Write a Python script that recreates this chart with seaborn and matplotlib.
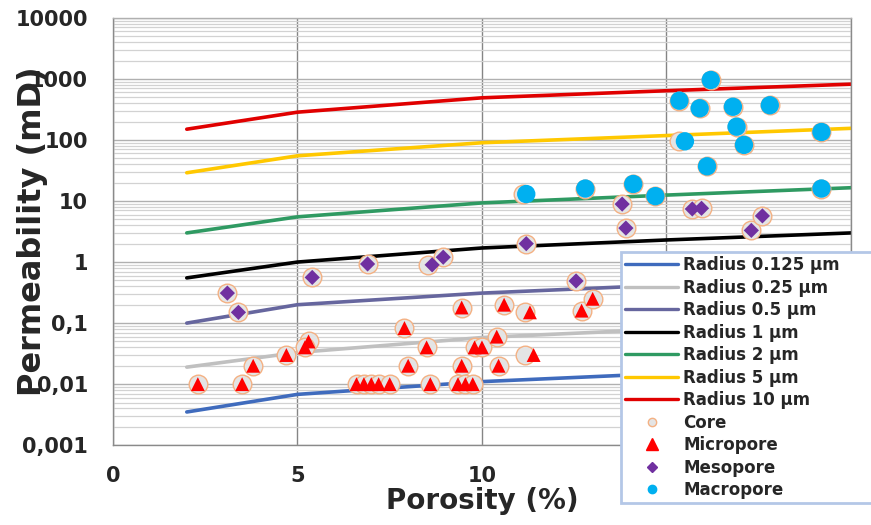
import matplotlib
matplotlib.use("Agg")
import matplotlib.pyplot as plt
from matplotlib.lines import Line2D
from matplotlib.ticker import FixedLocator, FixedFormatter, LogLocator, NullFormatter
import pandas as pd
import seaborn as sns

# pore-throat radius model lines
line_porosity = [2, 5, 10, 15, 20]
radius_labels = [
    "Radius 0.125 µm",
    "Radius 0.25 µm",
    "Radius 0.5 µm",
    "Radius 1 µm",
    "Radius 2 µm",
    "Radius 5 µm",
    "Radius 10 µm",
]
perm_r0125 = [0.0035, 0.0068, 0.011, 0.015, 0.019]
perm_r025 = [0.019, 0.033, 0.058, 0.08, 0.10]
perm_r05 = [0.10, 0.20, 0.31, 0.42, 0.55]
perm_r1 = [0.55, 1.0, 1.7, 2.3, 3.0]
perm_r2 = [3.0, 5.5, 9.3, 12.5, 16.5]
perm_r5 = [29, 55, 90, 118, 155]
perm_r10 = [150, 285, 490, 640, 820]
radius_colors = ["#3f6bbd", "#c0c0c0", "#66669e", "#000000", "#2f9a62", "#ffc800", "#e00000"]

# samples
micro_phi = [2.3, 3.5, 3.8, 4.7, 5.3, 5.2, 6.6, 6.8, 7.0, 7.2, 7.5, 7.9, 8.0, 8.5, 8.6,
             9.45, 9.45, 9.35, 9.55, 9.75, 9.8, 10.0, 10.4, 10.6, 10.45, 11.3, 11.4, 12.7, 13.0]
micro_k = [0.01, 0.01, 0.02, 0.03, 0.05, 0.04, 0.01, 0.01, 0.01, 0.01, 0.01, 0.083, 0.02, 0.04, 0.01,
           0.18, 0.02, 0.01, 0.01, 0.01, 0.04, 0.04, 0.06, 0.2, 0.02, 0.15, 0.03, 0.16, 0.25]
meso_phi = [3.1, 3.4, 5.4, 6.9, 8.65, 8.95, 11.2, 12.55, 13.8, 13.9, 15.7, 15.95, 17.3, 17.6]
meso_k = [0.31, 0.15, 0.56, 0.93, 0.9, 1.2, 2.0, 0.49, 8.9, 3.6, 7.4, 7.6, 3.3, 5.7]
macro_phi = [11.2, 12.8, 14.1, 14.7, 15.35, 15.5, 15.9, 16.2, 16.1, 16.8, 16.9, 17.1, 17.8, 19.2, 19.2]
macro_k = [13, 16, 19, 12, 440, 95, 330, 960, 37, 350, 165, 83, 370, 135, 16]
core_phi = micro_phi[:25] + [11.17, 11.17, 12.7, 13.0] + [3.1, 3.4, 5.4, 6.9, 8.55, 8.95, 11.2, 12.55,
           13.8, 13.9, 15.7, 15.95, 17.3, 17.6] + [11.1, 12.8, 14.1, 14.7, 15.35, 15.35, 15.9, 16.2,
           16.1, 16.8, 16.9, 17.1, 17.8, 19.2, 19.2]
core_k = micro_k + meso_k + macro_k

ytick_vals = [0.001, 0.01, 0.1, 1, 10, 100, 1000, 10000]
ytick_labels = ["0,001", "0,01", "0,1", "1", "10", "100", "1000", "10000"]
xtick_vals = [0, 5, 10, 15, 20]

lines_df = pd.DataFrame({
    "porosity": line_porosity * len(radius_labels),
    "perm": perm_r0125 + perm_r025 + perm_r05 + perm_r1 + perm_r2 + perm_r5 + perm_r10,
    "radius": [r for r in radius_labels for _ in line_porosity],
})

sns.set_style("white")
plt.rcParams["font.family"] = ["DejaVu Sans"]
plt.rcParams["font.weight"] = "bold"

fig, ax = plt.subplots(figsize=(8.71, 5.25), dpi=100)
fig.subplots_adjust(left=0.1297, right=0.977, bottom=0.152, top=0.966)

sns.lineplot(data=lines_df, x="porosity", y="perm", hue="radius", hue_order=radius_labels,
             palette=dict(zip(radius_labels, radius_colors)), linewidth=2.6,
             estimator=None, legend=False, ax=ax, zorder=2)
sns.scatterplot(x=core_phi, y=core_k, marker="o", s=180, color="#e4e4e4",
                edgecolor="#f4b183", linewidth=1.0, ax=ax, zorder=3)
sns.scatterplot(x=micro_phi, y=micro_k, marker="^", s=100, color="#ff0000",
                edgecolor="none", ax=ax, zorder=4)
sns.scatterplot(x=meso_phi, y=meso_k, marker="D", s=60, color="#7030a0",
                edgecolor="none", ax=ax, zorder=4)
sns.scatterplot(x=macro_phi, y=macro_k, marker="o", s=175, color="#00b0f0",
                edgecolor="none", ax=ax, zorder=4)

ax.set_yscale("log")
ax.set_ylim(0.001, 10000)
ax.set_xlim(0, 20)
ax.yaxis.set_major_locator(FixedLocator(ytick_vals))
ax.yaxis.set_major_formatter(FixedFormatter(ytick_labels))
ax.yaxis.set_minor_locator(LogLocator(base=10, subs=range(2, 10)))
ax.yaxis.set_minor_formatter(NullFormatter())
ax.set_xticks(xtick_vals)
ax.set_xticklabels([str(v) for v in xtick_vals])

ax.grid(which="major", axis="y", color="#b0b0b0", linewidth=1.0)
ax.grid(which="minor", axis="y", color="#d2d2d2", linewidth=0.9)
ax.grid(which="major", axis="x", color="#858585", linewidth=1.0)
ax.set_axisbelow(True)
for side in ["left", "bottom", "right", "top"]:
    ax.spines[side].set_color("#8a8a8a")
    ax.spines[side].set_linewidth(1.0)
ax.spines["top"].set_color("#b0b0b0")

ax.tick_params(axis="y", which="major", length=6, color="#8a8a8a", pad=12, labelsize=15)
ax.tick_params(axis="y", which="minor", length=0)
ax.tick_params(axis="x", length=0, pad=15, labelsize=15)

ax.set_xlabel("Porosity (%)", fontsize=20, fontweight="bold")
ax.set_ylabel("Permeability (mD)", fontsize=23, fontweight="bold")
ax.xaxis.set_label_coords(0.5, -0.098)
ax.yaxis.set_label_coords(-0.088, 0.5)

handles = [Line2D([], [], color=c, linewidth=2.4) for c in radius_colors]
handles += [
    Line2D([], [], linestyle="none", marker="o", markersize=6, markerfacecolor="#e4e4e4",
           markeredgecolor="#f4b183", markeredgewidth=1.0),
    Line2D([], [], linestyle="none", marker="^", markersize=8, color="#ff0000"),
    Line2D([], [], linestyle="none", marker="D", markersize=5.5, color="#7030a0"),
    Line2D([], [], linestyle="none", marker="o", markersize=6, color="#00b0f0"),
]
labels = radius_labels + ["Core", "Micropore", "Mesopore", "Macropore"]
# legend box runs past the right edge of the figure, hiding the 15 and 20 tick labels
leg = ax.legend(handles, labels, loc="upper left", bbox_to_anchor=(0.688, 0.0, 0.37, 0.452),
                mode="expand", handlelength=3.2, handletextpad=0.3, labelspacing=0.27,
                borderpad=0.25, borderaxespad=0, frameon=True, fancybox=False,
                prop={"weight": "bold", "size": 12})
leg.get_frame().set_edgecolor("#b4c7e7")
leg.get_frame().set_linewidth(2.0)
leg.get_frame().set_facecolor("white")
leg.get_frame().set_alpha(1.0)
leg.set_zorder(10)

fig.savefig("out.png", dpi=100)
plt.close(fig)
